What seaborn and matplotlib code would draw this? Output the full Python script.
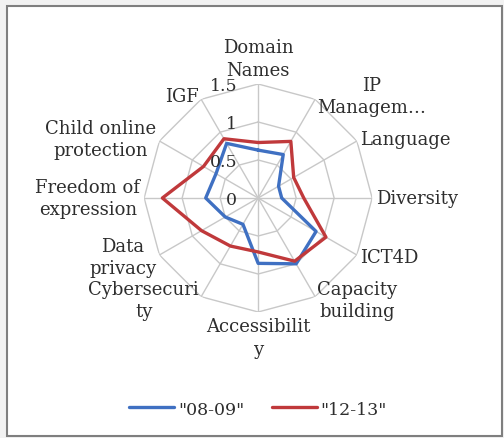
import numpy as np
import pandas as pd
import seaborn as sns
import matplotlib.pyplot as plt
from matplotlib.lines import Line2D
from matplotlib.patches import Rectangle

categories = ['Domain\nNames', 'IP\nManagem…', 'Language', 'Diversity', 'ICT4D',
              'Capacity\nbuilding', 'Accessibilit\ny', 'Cybersecuri\nty', 'Data\nprivacy',
              'Freedom of\nexpression', 'Child online\nprotection', 'IGF']
periods = ['"08-09"', '"12-13"']
values_0809 = [0.63, 0.66, 0.31, 0.31, 0.88, 1.00, 0.86, 0.40, 0.50, 0.69, 0.64, 0.83]
values_1213 = [0.73, 0.86, 0.54, 0.60, 1.03, 0.96, 0.71, 0.73, 0.86, 1.26, 0.83, 0.90]
r_ticks = [0, 0.5, 1, 1.5]
r_labels = ['0', '0.5', '1', '1.5']

sns.set_theme(style='white')
plt.rcParams['font.family'] = ['DejaVu Serif']

n = len(categories)
angles = np.linspace(0, 2 * np.pi, n, endpoint=False)

rows = []
for name, vals in zip(periods, [values_0809, values_1213]):
    for i in range(n + 1):
        rows.append({'theta': angles[i % n] if i < n else 2 * np.pi,
                     'value': vals[i % n], 'period': name})
df = pd.DataFrame(rows)

colors = {'"08-09"': '#3f70c2', '"12-13"': '#c0393b'}
grid_color = '#c8c8c8'
text_color = '#2e2e2e'

fig = plt.figure(figsize=(5.04, 4.39), dpi=100, facecolor='#f2f2f2')
fig.patches.append(Rectangle((7 / 504, 2 / 439), 495 / 504, 430 / 439,
                             transform=fig.transFigure, facecolor='white',
                             edgecolor='#7f7f7f', linewidth=1.5, zorder=-10))

ax = fig.add_axes([0.286, 0.287, 0.4524, 0.5194], projection='polar')
ax.set_facecolor('none')
ax.set_theta_zero_location('N')
ax.set_theta_direction(-1)
ax.set_ylim(0, 1.5)
ax.set_xticks(angles)
ax.set_xticklabels([])
ax.set_yticks([])
ax.spines['polar'].set_visible(False)
ax.grid(axis='x', color=grid_color, linewidth=1)

# polygon rings
ring_theta = np.append(angles, angles[0])
for r in r_ticks[1:]:
    ax.plot(ring_theta, [r] * (n + 1), color=grid_color, linewidth=1, zorder=1)

sns.lineplot(data=df, x='theta', y='value', hue='period', palette=colors,
             sort=False, estimator=None, linewidth=2.4, legend=False, ax=ax, zorder=3)
ax.set_xlabel('')
ax.set_ylabel('')

# category labels
for ang, lab in zip(angles, categories):
    deg = np.degrees(ang)
    if np.isclose(deg, 0):
        ha, va, r = 'center', 'bottom', 1.57
    elif np.isclose(deg, 180):
        ha, va, r = 'center', 'top', 1.57
    elif deg < 180:
        ha, va, r = 'left', 'center', 1.55
    else:
        ha, va, r = 'right', 'center', 1.55
    ax.text(ang, r, lab, ha=ha, va=va, multialignment='center',
            fontsize=13, linespacing=1.3, color=text_color)

# radial tick labels
for r, lab in zip(r_ticks, r_labels):
    ax.annotate(lab, xy=(0, r), xytext=(-21, -2), textcoords='offset pixels',
                ha='right', va='center', fontsize=12.5, color=text_color)

handles = [Line2D([], [], color=colors[p], linewidth=2.4) for p in periods]
fig.legend(handles, periods, loc='center', bbox_to_anchor=(0.512, 0.066), ncol=2,
           frameon=False, fontsize=12.5, handlelength=2.6, handletextpad=0.2,
           columnspacing=1.6, labelcolor=text_color)

fig.savefig('out.png', dpi=100, facecolor=fig.get_facecolor())
